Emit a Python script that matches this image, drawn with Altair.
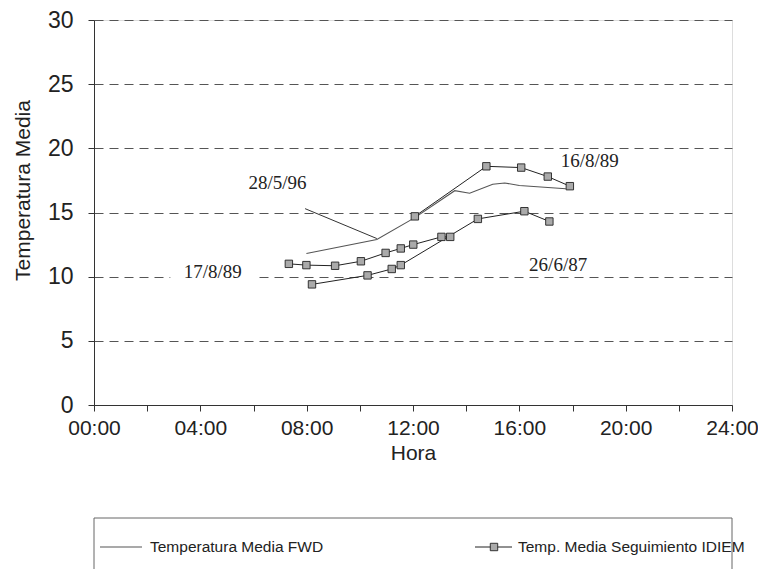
import altair as alt
import pandas as pd

# --- Data (hour of day as decimal, mean temperature) ---
fwd_hora = [7.99, 10.64, 12.07, 13.57, 14.13, 15.0, 15.45, 16.0, 17.75]
fwd_temp = [11.8, 12.9, 14.6, 16.7, 16.5, 17.2, 17.3, 17.1, 16.85]

idiem_168_hora = [12.07, 14.76, 16.07, 17.07, 17.9]
idiem_168_temp = [14.7, 18.6, 18.5, 17.8, 17.05]

idiem_178_hora = [7.33, 7.99, 9.07, 10.04, 10.97, 11.54, 12.01, 13.07, 13.4]
idiem_178_temp = [11.0, 10.9, 10.85, 11.2, 11.85, 12.2, 12.5, 13.1, 13.1]

idiem_266_hora = [8.2, 10.29, 11.2, 11.54, 14.44, 16.19, 17.13]
idiem_266_temp = [9.4, 10.1, 10.6, 10.9, 14.5, 15.1, 14.3]

etiquetas = ["28/5/96", "16/8/89", "17/8/89", "26/6/87"]
etiq_hora = [6.9, 18.65, 4.47, 17.46]
etiq_temp = [17.3, 19.0, 10.4, 10.9]

guia_hora = [7.94]
guia_temp = [15.3]
guia_hora2 = [10.64]
guia_temp2 = [12.97]

leyenda = ["Temperatura Media FWD", "Temp. Media Seguimiento IDIEM"]

x_ticks = list(range(0, 25, 2))
y_ticks = [0, 5, 10, 15, 20, 25, 30]

# --- Tables ---
fwd = pd.DataFrame({"hora": fwd_hora, "temp": fwd_temp})
idiem = pd.concat([
    pd.DataFrame({"hora": idiem_168_hora, "temp": idiem_168_temp, "fecha": "16/8/89"}),
    pd.DataFrame({"hora": idiem_178_hora, "temp": idiem_178_temp, "fecha": "17/8/89"}),
    pd.DataFrame({"hora": idiem_266_hora, "temp": idiem_266_temp, "fecha": "26/6/87"}),
], ignore_index=True)
labels = pd.DataFrame({"txt": etiquetas, "hora": etiq_hora, "temp": etiq_temp})
labels["h1"] = labels["hora"] - 1.6
labels["h2"] = labels["hora"] + 1.6
labels["t1"] = labels["temp"] - 0.55
labels["t2"] = labels["temp"] + 0.55
guide = pd.DataFrame({"h": guia_hora, "t": guia_temp, "h2": guia_hora2, "t2": guia_temp2})

FONT = "Liberation Sans"
W, H = 638, 385

xscale = alt.Scale(domain=[0, 24], nice=False, zero=True)
yscale = alt.Scale(domain=[0, 30], nice=False)

xaxis = alt.Axis(
    values=x_ticks,
    labelExpr="datum.value % 4 == 0 ? (datum.value < 10 ? '0' : '') + datum.value + ':00' : ''",
    grid=False, tickSize=6, tickColor="#333", domainColor="#333",
    labelFont=FONT, labelFontSize=21, labelColor="#222", labelPadding=6,
    labelOverlap=False, labelFlush=False,
    title="Hora", titleFont=FONT, titleFontSize=21, titleFontWeight="normal",
    titleColor="#222", titlePadding=4,
)
yaxis = alt.Axis(
    values=y_ticks, grid=True, gridDash=[9, 6], gridColor="#555", gridWidth=1,
    tickSize=6, tickColor="#333", domainColor="#333",
    labelFont=FONT, labelFontSize=23, labelColor="#222", labelPadding=15,
    title="Temperatura Media", titleFont=FONT, titleFontSize=21,
    titleFontWeight="normal", titleColor="#222", titlePadding=14, titleY=170,
)

X = alt.X("hora:Q", scale=xscale, axis=xaxis)
Y = alt.Y("temp:Q", scale=yscale, axis=yaxis)

boxes = alt.Chart(labels).mark_rect(fill="white").encode(
    x=alt.X("h1:Q", scale=xscale, axis=xaxis), x2="h2:Q",
    y=alt.Y("t1:Q", scale=yscale, axis=yaxis), y2="t2:Q",
)

fwd_line = alt.Chart(fwd).mark_line(color="#555", strokeWidth=1.1).encode(x=X, y=Y)

idiem_line = alt.Chart(idiem).mark_line(color="#222", strokeWidth=1).encode(
    x=X, y=Y, detail="fecha:N"
)
idiem_pts = alt.Chart(idiem).mark_square(
    size=55, fill="#aaa", stroke="#222", strokeWidth=0.9, opacity=1
).encode(x=X, y=Y)

guide_rule = alt.Chart(guide).mark_rule(color="#333", strokeWidth=1).encode(
    x=alt.X("h:Q", scale=xscale, axis=xaxis), x2="h2:Q",
    y=alt.Y("t:Q", scale=yscale, axis=yaxis), y2="t2:Q",
)

texts = alt.Chart(labels).mark_text(
    font="Liberation Serif", fontSize=19, color="#222", align="center", baseline="middle"
).encode(x=X, y=Y, text="txt:N")

# --- Legend box drawn below the plot ---
one = pd.DataFrame({"k": [0]})
leg_box = alt.Chart(one).mark_rect(
    fill="white", stroke="#666", strokeWidth=1
).encode(x=alt.value(0), x2=alt.value(W), y=alt.value(498), y2=alt.value(575))

leg_line1 = alt.Chart(one).mark_rule(color="#555", strokeWidth=1.1).encode(
    x=alt.value(6), x2=alt.value(48), y=alt.value(527)
)
leg_line2 = alt.Chart(one).mark_rule(color="#222", strokeWidth=1).encode(
    x=alt.value(381), x2=alt.value(418), y=alt.value(527)
)
leg_sq = alt.Chart(one).mark_square(
    size=55, fill="#aaa", stroke="#222", strokeWidth=0.9, opacity=1
).encode(x=alt.value(400), y=alt.value(527))

leg_txt1 = alt.Chart(pd.DataFrame({"t": [leyenda[0]]})).mark_text(
    font=FONT, fontSize=15.5, color="#222", align="left", baseline="middle"
).encode(x=alt.value(56), y=alt.value(527), text="t:N")
leg_txt2 = alt.Chart(pd.DataFrame({"t": [leyenda[1]]})).mark_text(
    font=FONT, fontSize=15.5, color="#222", align="left", baseline="middle"
).encode(x=alt.value(424), y=alt.value(527), text="t:N")

chart = alt.layer(
    boxes, fwd_line, idiem_line, idiem_pts, guide_rule, texts,
    leg_box, leg_line1, leg_line2, leg_sq, leg_txt1, leg_txt2,
).properties(
    width=W, height=H,
    autosize=alt.AutoSizeParams(type="none"),
    padding={"left": 86, "top": 12, "right": 26, "bottom": 170},
).configure_view(
    stroke="#888", strokeWidth=1, strokeDash=[1, 1]
).configure(background="white")

chart.save("out.html", embed_options={"renderer": "svg", "actions": False})
